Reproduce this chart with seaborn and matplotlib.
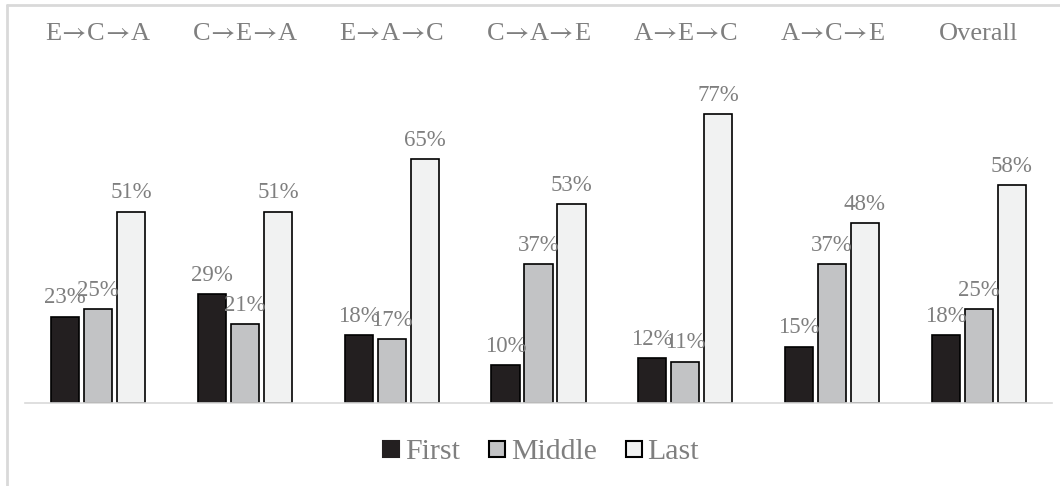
import matplotlib
matplotlib.use("Agg")
import matplotlib.pyplot as plt
import matplotlib.lines as mlines
import seaborn as sns
import pandas as pd

# Data
orders = ["E→C→A", "C→E→A", "E→A→C", "C→A→E", "A→E→C", "A→C→E", "Overall"]
first = [23, 29, 18, 10, 12, 15, 18]
middle = [25, 21, 17, 37, 11, 37, 25]
last = [51, 51, 65, 53, 77, 48, 58]
positions = ["First", "Middle", "Last"]
colors = ["#231f20", "#c2c3c5", "#f1f2f2"]

rows = []
for i, o in enumerate(orders):
    for pos, vals in zip(positions, [first, middle, last]):
        rows.append({"order": o, "position": pos, "pct": vals[i]})
df = pd.DataFrame(rows)

sns.set_style("white")
plt.rcParams["font.family"] = ["Liberation Serif", "DejaVu Serif"]
plt.rcParams["mathtext.fontset"] = "stix"
text_gray = "#7f7f7f"
line_gray = "#d9d9d9"

fig = plt.figure(figsize=(10.6, 4.86), dpi=100)
ax = fig.add_axes([25 / 1060, 1 - 403 / 486, 1027 / 1060, 348 / 486])

sns.barplot(data=df, x="order", y="pct", hue="position", hue_order=positions,
            palette=colors, width=0.675, gap=0.15, edgecolor="black",
            linewidth=1.2, saturation=1, ax=ax, legend=False)

for cont in ax.containers:
    ax.bar_label(cont, labels=[f"{int(v)}%" for v in cont.datavalues],
                 padding=6, fontsize=16.5, color=text_gray, clip_on=False)

ax.set_ylim(0, 348 / 3.75)
ax.set_xlim(-0.5, len(orders) - 0.5)
ax.set_yticks([])
ax.set_xlabel("")
ax.set_ylabel("")
ax.xaxis.tick_top()
# long Times-like arrows for the order labels, with some relation spacing taken out
ax.set_xticks(range(len(orders)))
ax.set_xticklabels([o.replace("→", r"$\!\rightarrow\!$") for o in orders])
ax.tick_params(axis="x", length=0, pad=7, labelsize=19, labelcolor=text_gray)
for s in ["top", "left", "right"]:
    ax.spines[s].set_visible(False)
ax.spines["bottom"].set_color(line_gray)
ax.spines["bottom"].set_linewidth(1.2)

# legend with small square markers
handles = [mlines.Line2D([], [], marker="s", linestyle="none", markersize=12,
                         markerfacecolor=c, markeredgecolor="black" if i else c,
                         markeredgewidth=1.5)
           for i, c in enumerate(colors)]
leg = fig.legend(handles, positions, loc="center", bbox_to_anchor=(540 / 1060, 1 - 452 / 486),
                 ncol=3, frameon=False, fontsize=21.5, handletextpad=0.1,
                 columnspacing=0.9, handlelength=0.7)
for t in leg.get_texts():
    t.set_color(text_gray)

# outer frame lines (top and left edge of the chart area)
fig.add_artist(mlines.Line2D([7 / 1060, 1], [1 - 5 / 486, 1 - 5 / 486],
                             transform=fig.transFigure, color=line_gray, lw=2))
fig.add_artist(mlines.Line2D([7 / 1060, 7 / 1060], [0, 1 - 5 / 486],
                             transform=fig.transFigure, color=line_gray, lw=2))

fig.savefig("out.png", dpi=100)
